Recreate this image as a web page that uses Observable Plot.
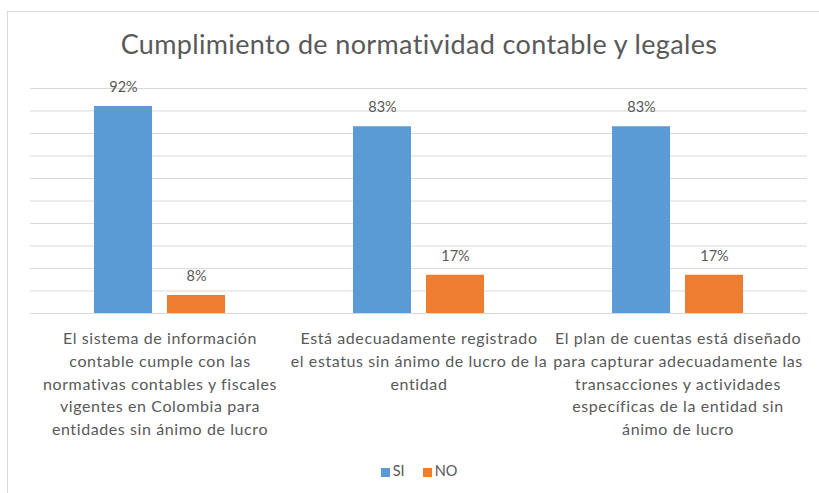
<!DOCTYPE html>
<html>
<head>
<meta charset="utf-8">
<script src="https://cdn.jsdelivr.net/npm/d3@7"></script>
<script src="https://cdn.jsdelivr.net/npm/@observablehq/plot@0.6"></script>
<style>
  html, body { margin: 0; padding: 0; background: #fff; overflow: hidden; width: 819px; height: 493px; }
  #frame { position: absolute; left: 7px; top: 11px; width: 840px; height: 520px; border: 1px solid #d9d9d9; box-sizing: border-box; }
  #title { position: absolute; left: 0; top: 27px; width: 838px; text-align: center; font-family: Lato, sans-serif; font-size: 27px; letter-spacing: 0.35px; color: #595959; line-height: 34px; white-space: nowrap; }
  #chart { position: absolute; left: 0; top: 70px; }
  #legend { position: absolute; left: 0; top: 462px; width: 838px; text-align: center; font-family: Lato, sans-serif; font-size: 14.5px; color: #595959; line-height: 18px; }
  #legend .sw { display: inline-block; width: 9px; height: 9px; margin-right: 3px; vertical-align: -1px; }
  #legend .item { margin: 0 9px; }
</style>
</head>
<body>
<div id="frame"></div>
<div id="title">Cumplimiento de normatividad contable y legales</div>
<div id="chart"></div>
<div id="legend"></div>
<script>
const categories = [
  "El sistema de información\ncontable cumple con las\nnormativas contables y fiscales\nvigentes en Colombia para\nentidades sin ánimo de lucro",
  "Está adecuadamente registrado\nel estatus sin ánimo de lucro de la\nentidad",
  "El plan de cuentas está diseñado\npara capturar adecuadamente las\ntransacciones y actividades\nespecíficas de la entidad sin\nánimo de lucro"
];
const series = ["SI", "NO"];
const siValues = [92, 83, 83];
const noValues = [8, 17, 17];
const colors = ["#5B9BD5", "#ED7D31"];
const yTicks = [0, 10, 20, 30, 40, 50, 60, 70, 80, 90, 100];

const rows = [];
categories.forEach((c, i) => {
  rows.push({category: c, series: "SI", value: siValues[i]});
  rows.push({category: c, series: "NO", value: noValues[i]});
});

const chart = Plot.plot({
  width: 819,
  height: 373,
  marginTop: 18,
  marginBottom: 130,
  marginLeft: 29,
  marginRight: 12,
  style: {fontFamily: "Lato, sans-serif", color: "#595959", background: "transparent"},
  fx: {domain: categories, padding: 0, label: null},
  x: {domain: series, paddingInner: 0.2, paddingOuter: 0.852, axis: null},
  y: {domain: [0, 100], axis: null},
  color: {domain: series, range: colors},
  marks: [
    Plot.gridY(yTicks, {stroke: "#d9d9d9", strokeOpacity: 1}),
    Plot.barY(rows, {fx: "category", x: "series", y: "value", fill: "series"}),
    Plot.text(rows, {fx: "category", x: "series", y: "value", text: d => d.value + "%", dy: -19, fill: "#595959", fontSize: 14.5}),
    Plot.axisFx({anchor: "bottom", tickSize: 0, tickPadding: 14, lineAnchor: "top", lineHeight: 1.43, fontSize: 16, fill: "#595959", label: null})
  ]
});
d3.select(chart).selectAll("g[aria-label='fx-axis tick label'] text").attr("letter-spacing", "0.6px");
document.getElementById("chart").appendChild(chart);

const legend = document.getElementById("legend");
series.forEach((s, i) => {
  const span = document.createElement("span");
  span.className = "item";
  span.innerHTML = `<span class="sw" style="background:${colors[i]}"></span>${s}`;
  legend.appendChild(span);
});
</script>
</body>
</html>
